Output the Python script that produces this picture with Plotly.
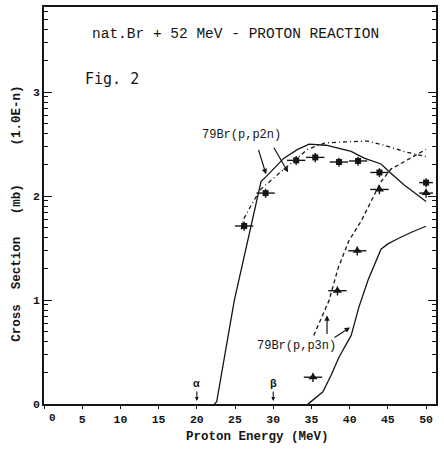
import plotly.graph_objects as go

# ---- data -------------------------------------------------------------
# measured 79Br(p,p2n) cross sections
p2n_energy = [26.2, 29.0, 33.0, 35.5, 38.6, 41.1, 43.9, 50.0]
p2n_xs = [51.6, 107, 221, 236, 213, 218, 169, 135]
p2n_dE = [1.2, 1.2, 1.2, 1.2, 1.2, 1.2, 1.2, 0.9]
p2n_dxs_pct = [10, 10, 10, 10, 10, 10, 10, 20]

# measured 79Br(p,p3n) cross sections
p3n_energy = [35.2, 38.4, 41.0, 43.9, 50.0]
p3n_xs = [1.81, 12.3, 29.8, 116, 107]
p3n_dE = [1.2, 1.2, 1.2, 1.2, 0.9]
p3n_dxs_pct = [10, 10, 10, 10, 20]

# calculated excitation functions
calc_a_p2n_E = [22.3, 22.6, 24.9, 26.4, 28.4, 29.1, 31.4, 33.2, 34.7, 36.9,
                40.2, 41.9, 44.1, 45.4, 47.1, 50.0]
calc_a_p2n_xs = [1.0, 1.05, 9.9, 29.8, 138, 155, 232, 282, 316, 309,
                 269, 232, 204, 166, 129, 89]

calc_b_p2n_E = [25.8, 26.2, 27.4, 28.4, 30.6, 32.7, 34.5, 36.7, 38.5, 42.4,
                44.5, 47.1, 50.0]
calc_b_p2n_xs = [47.9, 61.7, 89.1, 117, 162, 216, 282, 324, 331, 339,
                 309, 269, 240]

calc_b_p3n_E = [35.3, 37.3, 38.5, 39.9, 41.5, 42.8, 44.1, 45.4, 47.1, 48.95, 50.0]
calc_b_p3n_xs = [4.57, 9.89, 20.4, 37.2, 57.5, 89.1, 138, 182, 214, 251, 282]

calc_a_p3n_E = [34.5, 34.7, 36.5, 37.6, 38.6, 40.2, 41.2, 42.4, 44.1, 45.0,
                46.3, 48.0, 50.0]
calc_a_p3n_xs = [1.0, 1.02, 1.31, 1.91, 2.82, 4.57, 8.51, 15.5, 30.9, 34.7,
                 38.9, 44.7, 51.3]

x_ticks = [0, 5, 10, 15, 20, 25, 30, 35, 40, 45, 50]
y_ticks = [1, 10, 100, 1000]
y_ticktext = ["0", "1", "2", "3"]
y_minor = [m * d for d in (1, 10, 100, 1000) for m in range(2, 10)]

INK = "#151515"
MONO = "Liberation Mono, Courier New, monospace"

# plot-area geometry in pixels (used to place free-floating labels)
L, R, T, B = 44, 436, 5, 404
W, H = R - L, B - T


def px(x):
    return (x - L) / W


def py(y):
    return (B - y) / H


fig = go.Figure()

# calculated curves
fig.add_trace(go.Scatter(x=calc_a_p2n_E, y=calc_a_p2n_xs, mode="lines",
                         line=dict(color=INK, width=1.3), hoverinfo="skip"))
fig.add_trace(go.Scatter(x=calc_b_p2n_E, y=calc_b_p2n_xs, mode="lines",
                         line=dict(color=INK, width=1.3, dash="4px,3px,1px,3px"),
                         hoverinfo="skip"))
fig.add_trace(go.Scatter(x=calc_b_p3n_E, y=calc_b_p3n_xs, mode="lines",
                         line=dict(color=INK, width=1.3, dash="4px,3px"),
                         hoverinfo="skip"))
fig.add_trace(go.Scatter(x=calc_a_p3n_E, y=calc_a_p3n_xs, mode="lines",
                         line=dict(color=INK, width=1.3), hoverinfo="skip"))

# measured points
fig.add_trace(go.Scatter(
    x=p2n_energy, y=p2n_xs, mode="markers",
    marker=dict(symbol="square", size=6, color=INK),
    error_x=dict(type="data", array=p2n_dE, color=INK, thickness=1.4, width=0),
    error_y=dict(type="percent", array=p2n_dxs_pct, color=INK, thickness=1.4, width=0),
))
fig.add_trace(go.Scatter(
    x=p3n_energy, y=p3n_xs, mode="markers",
    marker=dict(symbol="triangle-up", size=8, color=INK),
    error_x=dict(type="data", array=p3n_dE, color=INK, thickness=1.4, width=0),
    error_y=dict(type="percent", array=p3n_dxs_pct, color=INK, thickness=1.4, width=0),
))


def paper_text(text, x, y, size, family=MONO, angle=0, xanchor="center"):
    return dict(text=text, xref="paper", yref="paper", x=px(x), y=py(y),
                xanchor=xanchor, yanchor="middle", textangle=angle,
                showarrow=False, font=dict(family=family, size=size, color=INK))


annotations = [
    paper_text("nat.Br + 52 MeV - PROTON REACTION", 235, 32, 14.5),
    paper_text("Fig. 2", 83, 77, 15, family="DejaVu Sans Mono, monospace",
               xanchor="left"),
    # x tick label for zero, set just inside the frame
    paper_text("<b>0</b>", 52, 418, 11),
    paper_text("<b>Proton Energy (MeV)</b>", 257, 437, 12.5),
    paper_text("<b>Cross  Section   (mb)</b>", 17, 262, 12.5, angle=-90),
    paper_text("<b>(1.0E-n)</b>", 17, 114, 12.5, angle=-90),
    dict(text="79Br(p,p2n)", x=25.8, y=2.59, showarrow=False,
         font=dict(family=MONO, size=12, color=INK)),
    dict(text="79Br(p,p3n)", x=33.0, y=0.555, showarrow=False,
         font=dict(family=MONO, size=12, color=INK)),
]

# arrows from the reaction labels to the curves
for hx, hy, ax, ay in [(29.06, 2.21, -8, -26), (31.94, 2.23, -15, -26),
                       (37.04, 0.852, 0, 20), (40.05, 0.737, -17, 11)]:
    annotations.append(dict(x=hx, y=hy, ax=ax, ay=ay, text="", showarrow=True,
                            arrowhead=2, arrowsize=0.9, arrowwidth=1.2,
                            arrowcolor=INK))

# alpha / beta energy markers
for ex, sym in [(20, "α"), (30, "β")]:
    annotations.append(dict(x=ex, y=0.03, ax=0, ay=-17, text=f"<b>{sym}</b>",
                            showarrow=True, arrowhead=2, arrowsize=0.7,
                            arrowwidth=1.1, arrowcolor=INK, standoff=0,
                            font=dict(family=MONO, size=11, color=INK)))

fig.update_layout(
    width=444, height=451,
    margin=dict(l=L, r=444 - R, t=T, b=451 - B),
    paper_bgcolor="white", plot_bgcolor="white",
    showlegend=False,
    annotations=annotations,
    xaxis=dict(
        range=[0, 51.3], tickvals=x_ticks,
        ticktext=["" if v == 0 else f"<b>{v}</b>" for v in x_ticks],
        ticks="outside", ticklen=3, tickwidth=1.2, tickcolor=INK,
        showline=True, linecolor=INK, linewidth=1.5, mirror=True,
        showgrid=False, zeroline=False,
        tickfont=dict(family=MONO, size=11.5, color=INK),
    ),
    yaxis=dict(
        type="log", range=[0, 3.82], tickvals=y_ticks,
        ticktext=[f"<b>{t}</b>" for t in y_ticktext],
        ticks="inside", ticklen=8, tickwidth=1.2, tickcolor=INK,
        minor=dict(tickvals=y_minor, ticks="inside", ticklen=4,
                   tickwidth=1, tickcolor=INK, showgrid=False),
        showline=True, linecolor=INK, linewidth=1.5, mirror="ticks",
        showgrid=False, zeroline=False,
        tickfont=dict(family=MONO, size=11.5, color=INK),
    ),
)

fig.write_html("out.html")
